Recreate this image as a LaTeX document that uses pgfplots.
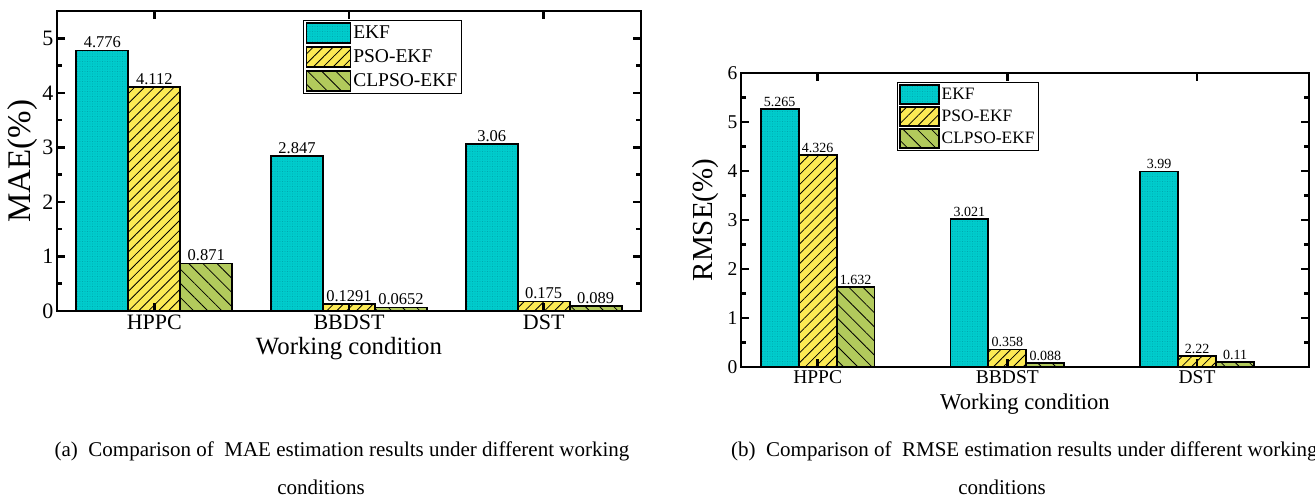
\documentclass[border=0pt]{standalone}
\usepackage{fontspec}
\setmainfont{Liberation Serif}
\usepackage{pgfplots}
\pgfplotsset{compat=1.18}
\usetikzlibrary{patterns.meta}
\definecolor{ekf}{RGB}{0,204,204}
\definecolor{ekfdot}{RGB}{0,150,160}
\definecolor{pso}{RGB}{252,234,84}
\definecolor{clp}{RGB}{178,202,92}
\pgfplotsset{
  mybars/.style={
    ybar, scale only axis, axis on top,
    xtick={0,1,2}, xticklabels={HPPC,BBDST,DST},
    ymin=0, minor y tick num=1, tick align=inside,
    axis line style={line width=2.6pt},
    major tick style={line width=2.6pt, black},
    minor tick style={line width=2.6pt, black},
    major tick length=8pt, minor tick length=5pt,
    /pgf/number format/assume math mode=true,
    nodes near coords, point meta=explicit symbolic,
    legend cell align=left,
    legend image code/.code={\draw[##1, line width=1.5pt] (0pt,-10pt) rectangle (44pt,10pt);},
  },
  ekfs/.style={preaction={fill=ekf}, pattern={Dots[distance=2.5pt,radius=0.45pt]}, pattern color=ekfdot, draw=black, line width=1.8pt},
  psos/.style={preaction={fill=pso}, pattern={Lines[angle=45,distance=7pt,line width=0.8pt]}, pattern color=black, draw=black, line width=1.8pt},
  clps/.style={preaction={fill=clp}, pattern={Lines[angle=-45,distance=10pt,line width=0.8pt]}, pattern color=black, draw=black, line width=1.8pt},
}
\begin{document}
\begin{tikzpicture}
\path[use as bounding box] (0pt,0pt) rectangle (1315pt,499pt);
% ---------- (a) MAE ----------
\begin{axis}[mybars,
  at={(57pt,188pt)}, anchor=south west,
  width=584pt, height=300pt,
  xmin=-0.5, xmax=2.5, ymax=5.5, ytick={0,1,2,3,4,5},
  yticklabels={0,1,2,3,4,5},
  bar width=0.267,
  yticklabel style={font=\fontsize{22}{24}\selectfont},
  xticklabel style={font=\fontsize{22}{24}\selectfont},
  xlabel={Working condition}, ylabel={MAE(\%)},
  xlabel style={font=\fontsize{24.8}{27}\selectfont, yshift=-1pt},
  ylabel style={font=\fontsize{33}{35}\selectfont, yshift=-2pt},
  every node near coord/.append style={font=\fontsize{16.5}{18}\selectfont, black, inner sep=1.5pt},
  legend style={at={(0.4215,0.97)}, anchor=north west, draw=black, line width=1.2pt,
    font=\fontsize{19.5}{22}\selectfont, inner xsep=2pt, inner ysep=1.5pt, row sep=2.5pt},
]
\addplot[ekfs, bar shift=-0.267] table[x=x,y=y,meta=lab]{
x y lab
0 4.776 4.776
1 2.847 2.847
2 3.06 3.06
};
\addplot[psos, bar shift=0] table[x=x,y=y,meta=lab]{
x y lab
0 4.112 4.112
1 0.1291 0.1291
2 0.175 0.175
};
\addplot[clps, bar shift=0.267] table[x=x,y=y,meta=lab]{
x y lab
0 0.871 0.871
1 0.0652 0.0652
2 0.089 0.089
};
\legend{EKF,PSO-EKF,CLPSO-EKF}
\end{axis}
% ---------- (b) RMSE ----------
\begin{axis}[mybars,
  at={(741pt,132pt)}, anchor=south west,
  width=568pt, height=294pt,
  xmin=-0.404, xmax=2.59, ymax=6, ytick={0,1,2,3,4,5,6},
  yticklabels={0,1,2,3,4,5,6},
  bar width=0.2,
  yticklabel style={font=\fontsize{19.5}{21}\selectfont},
  xticklabel style={font=\fontsize{19.5}{21}\selectfont},
  xlabel={Working condition}, ylabel={RMSE(\%)},
  xlabel style={font=\fontsize{22.6}{24}\selectfont, yshift=-3pt},
  ylabel style={font=\fontsize{29}{31}\selectfont, yshift=2pt},
  every node near coord/.append style={font=\fontsize{14}{16}\selectfont, black, inner sep=1.5pt},
  legend style={at={(0.274,0.969)}, anchor=north west, draw=black, line width=1.2pt,
    font=\fontsize{17.4}{20}\selectfont, inner xsep=2pt, inner ysep=1.5pt, row sep=1.5pt},
  legend image code/.code={\draw[#1, line width=1.5pt] (0pt,-9.5pt) rectangle (39pt,9.5pt);},
]
\addplot[ekfs, bar shift=-0.2] table[x=x,y=y,meta=lab]{
x y lab
0 5.265 5.265
1 3.021 3.021
2 3.99 3.99
};
\addplot[psos, bar shift=0] table[x=x,y=y,meta=lab]{
x y lab
0 4.326 4.326
1 0.358 0.358
2 0.222 2.22
};
\addplot[clps, bar shift=0.2] table[x=x,y=y,meta=lab]{
x y lab
0 1.632 1.632
1 0.088 0.088
2 0.11 0.11
};
\legend{EKF,PSO-EKF,CLPSO-EKF}
\end{axis}
% ---------- captions ----------
\node[anchor=base, font=\fontsize{21}{24}\selectfont, inner sep=0pt] at (342pt,43pt)
  {(a)\ \ Comparison of\ \ MAE estimation results under different working};
\node[anchor=base, font=\fontsize{21}{24}\selectfont, inner sep=0pt] at (321pt,5pt) {conditions};
\node[anchor=base west, font=\fontsize{21}{24}\selectfont, inner sep=0pt] at (731pt,43pt)
  {(b)\ \ Comparison of\ \ RMSE estimation results under different working};
\node[anchor=base, font=\fontsize{21}{24}\selectfont, inner sep=0pt] at (1002pt,5pt) {conditions};
\end{tikzpicture}
\end{document}
